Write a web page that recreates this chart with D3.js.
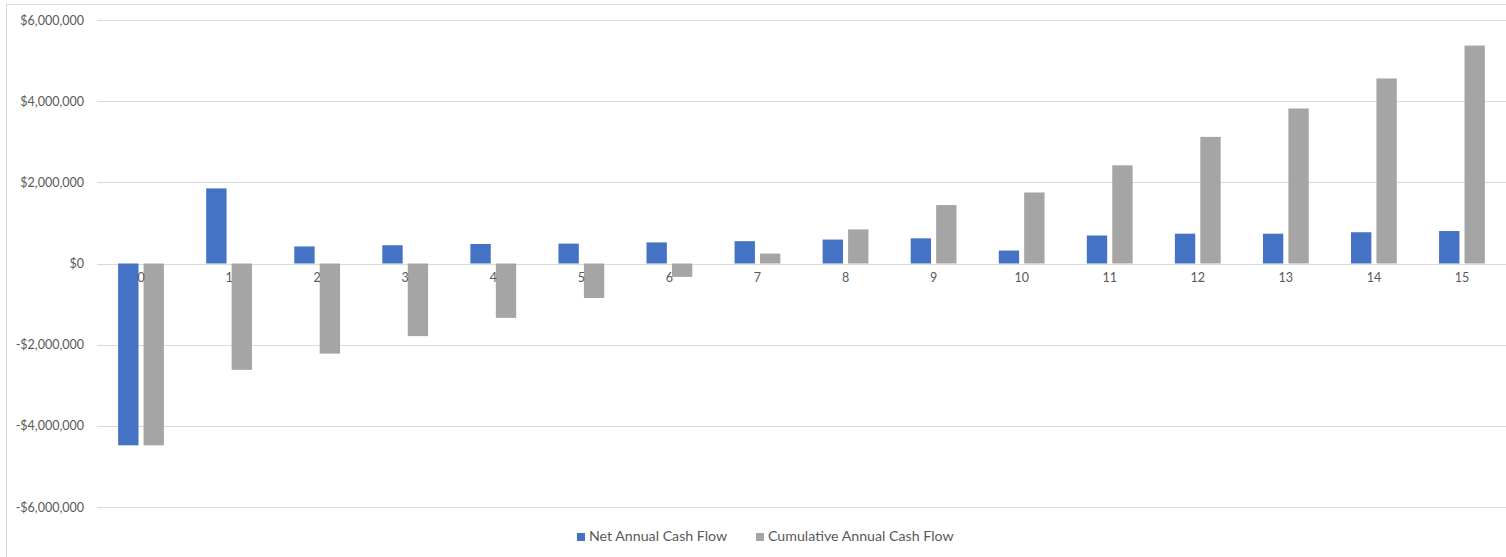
<!DOCTYPE html>
<html>
<head>
<meta charset="utf-8">
<script src="https://cdn.jsdelivr.net/npm/d3@7"></script>
<style>
  html, body { margin: 0; padding: 0; background: #fff; }
  svg { display: block; font-family: Lato, "Open Sans", sans-serif; }
</style>
</head>
<body>
<svg id="chart" width="1506" height="557"></svg>
<script>
// Years of the project
const years = ["0","1","2","3","4","5","6","7","8","9","10","11","12","13","14","15"];
// Net cash flow for each year
const netAnnual = [-4480000, 1850000, 420000, 450000, 480000, 490000, 520000, 550000,
                   590000, 620000, 320000, 690000, 735000, 735000, 770000, 800000];
// Running total of the net cash flow
const cumulativeAnnual = [-4480000, -2620000, -2220000, -1790000, -1340000, -850000, -330000, 245000,
                          840000, 1440000, 1750000, 2420000, 3120000, 3820000, 4560000, 5370000];
// Value axis ticks
const yTicks = [-6000000, -4000000, -2000000, 0, 2000000, 4000000, 6000000];
const seriesNames = ["Net Annual Cash Flow", "Cumulative Annual Cash Flow"];
const seriesColors = ["#4472C4", "#A5A5A5"];

const svg = d3.select("#chart");
const W = 1506, H = 557;

// outer chart frame
svg.append("rect")
  .attr("x", 6.5).attr("y", 4.5)
  .attr("width", W + 10).attr("height", H + 10)
  .attr("fill", "none").attr("stroke", "#d9d9d9").attr("stroke-width", 1);

const plot = { left: 97, right: 1506, top: 20, bottom: 507 };

const x = d3.scaleBand().domain(years)
  .range([plot.left, plot.right])
  .paddingInner(0.48).paddingOuter(0.24);

const xInner = d3.scaleBand().domain(seriesNames)
  .range([0, x.bandwidth()])
  .paddingInner(0.2);

const y = d3.scaleLinear().domain([-6000000, 6000000]).range([plot.bottom, plot.top]);

const fmt = v => (v < 0 ? "-" : "") + "$" + d3.format(",")(Math.abs(v));

// horizontal gridlines
svg.append("g")
  .selectAll("line").data(yTicks).join("line")
  .attr("x1", plot.left).attr("x2", plot.right)
  .attr("y1", d => Math.round(y(d)) + 0.5).attr("y2", d => Math.round(y(d)) + 0.5)
  .attr("stroke", "#d9d9d9").attr("stroke-width", 1);

// value axis labels
const yAxis = d3.axisLeft(y).tickValues(yTicks).tickFormat(fmt).tickSize(0).tickPadding(0);
svg.append("g")
  .attr("transform", `translate(84,0)`)
  .call(yAxis)
  .call(g => g.select(".domain").remove())
  .call(g => g.selectAll("text")
    .attr("fill", "#595959").style("font-size", "12.5px")
    .style("font-family", "Lato, 'Open Sans', sans-serif"));

// bars
const rows = years.map((yr, i) => ({ year: yr, values: [netAnnual[i], cumulativeAnnual[i]] }));
const groups = svg.append("g").selectAll("g").data(rows).join("g")
  .attr("transform", d => `translate(${x(d.year)},0)`);
groups.selectAll("rect")
  .data(d => d.values.map((v, k) => ({ v, k })))
  .join("rect")
  .attr("x", d => xInner(seriesNames[d.k]))
  .attr("width", xInner.bandwidth())
  .attr("y", d => y(Math.max(0, d.v)))
  .attr("height", d => Math.abs(y(d.v) - y(0)))
  .attr("fill", d => seriesColors[d.k]);

// category labels sitting just below the zero line
const xAxis = d3.axisBottom(x).tickSize(0).tickPadding(0);
svg.append("g")
  .attr("transform", `translate(0,${y(0) + 10})`)
  .call(xAxis)
  .call(g => g.select(".domain").remove())
  .call(g => g.selectAll("text")
    .attr("fill", "#595959").style("font-size", "12.5px")
    .style("font-family", "Lato, 'Open Sans', sans-serif"));

// legend
const legendItems = [
  { name: seriesNames[0], color: seriesColors[0], x: 577 },
  { name: seriesNames[1], color: seriesColors[1], x: 756 }
];
const legend = svg.append("g");
legendItems.forEach(it => {
  legend.append("rect")
    .attr("x", it.x).attr("y", 533).attr("width", 8).attr("height", 8)
    .attr("fill", it.color);
  legend.append("text")
    .attr("x", it.x + 12).attr("y", 541)
    .attr("fill", "#595959").style("font-size", "14.2px")
    .text(it.name);
});
</script>
</body>
</html>
